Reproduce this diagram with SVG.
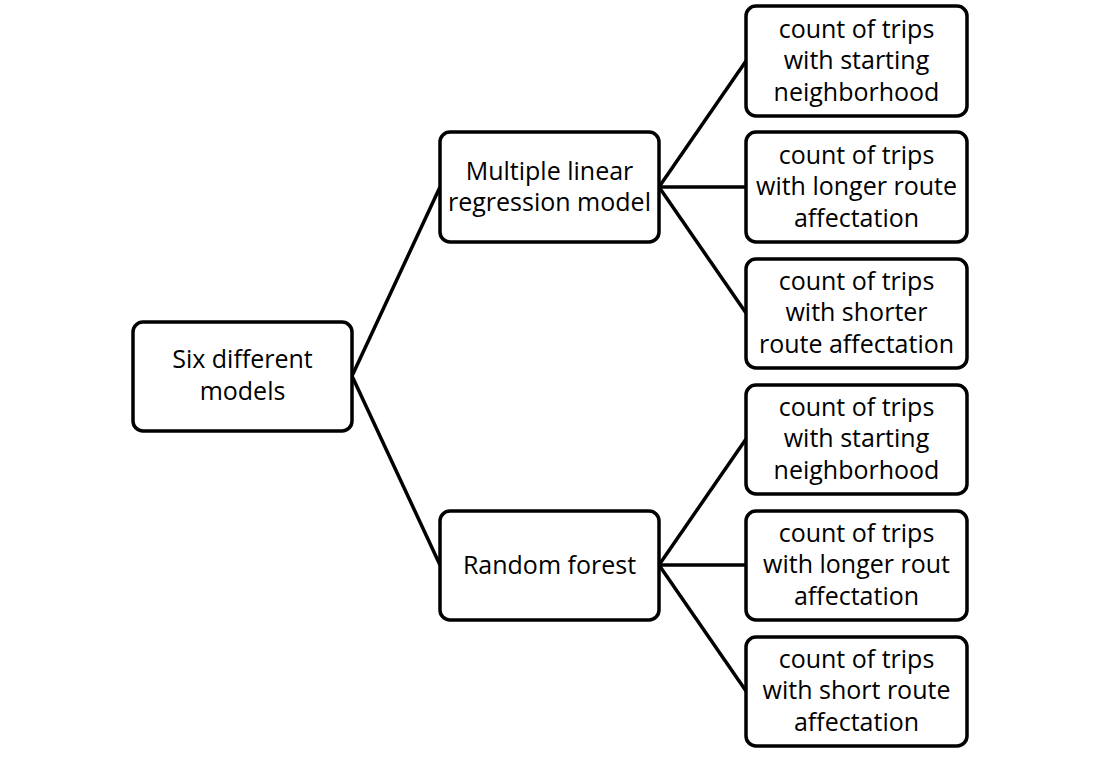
<svg xmlns="http://www.w3.org/2000/svg" width="1100" height="757" viewBox="0 0 1100 757">
<style>
.box{fill:#fff;stroke:#000;stroke-width:3.5}
.t{font-family:"Open Sans","Liberation Sans",sans-serif;font-size:25px;fill:#000;text-anchor:middle}
.c{stroke:#000;stroke-width:3.5;fill:none}
</style>
<rect width="1100" height="757" fill="#fff"/>
<g id="connectors">
<line class="c" x1="352" y1="376" x2="440" y2="187"/>
<line class="c" x1="352" y1="376" x2="440" y2="565"/>
<line class="c" x1="659" y1="187" x2="746" y2="61"/>
<line class="c" x1="659" y1="187" x2="746" y2="187"/>
<line class="c" x1="659" y1="187" x2="746" y2="313"/>
<line class="c" x1="659" y1="565" x2="746" y2="439"/>
<line class="c" x1="659" y1="565" x2="746" y2="565"/>
<line class="c" x1="659" y1="565" x2="746" y2="691"/>
</g>
<g id="root">
<rect class="box" x="133" y="322" width="219" height="109" rx="10"/>
<text class="t" x="242.5" y="368">Six different</text>
<text class="t" x="242.5" y="400">models</text>
</g>
<g id="mlr">
<rect class="box" x="440" y="132" width="219" height="110" rx="10"/>
<text class="t" x="549.5" y="180">Multiple linear</text>
<text class="t" x="549.5" y="211">regression model</text>
</g>
<g id="rf">
<rect class="box" x="440" y="511" width="219" height="109" rx="10"/>
<text class="t" x="549.5" y="574">Random forest</text>
</g>
<g id="leaf1">
<rect class="box" x="746" y="6" width="221" height="110" rx="10"/>
<text class="t" x="856.5" y="38">count of trips</text>
<text class="t" x="856.5" y="69">with starting</text>
<text class="t" x="856.5" y="101">neighborhood</text>
</g>
<g id="leaf2">
<rect class="box" x="746" y="132" width="221" height="110" rx="10"/>
<text class="t" x="856.5" y="164">count of trips</text>
<text class="t" x="856.5" y="195">with longer route</text>
<text class="t" x="856.5" y="227">affectation</text>
</g>
<g id="leaf3">
<rect class="box" x="746" y="259" width="221" height="109" rx="10"/>
<text class="t" x="856.5" y="290">count of trips</text>
<text class="t" x="856.5" y="321">with shorter</text>
<text class="t" x="856.5" y="353">route affectation</text>
</g>
<g id="leaf4">
<rect class="box" x="746" y="385" width="221" height="109" rx="10"/>
<text class="t" x="856.5" y="416">count of trips</text>
<text class="t" x="856.5" y="447">with starting</text>
<text class="t" x="856.5" y="479">neighborhood</text>
</g>
<g id="leaf5">
<rect class="box" x="746" y="511" width="221" height="109" rx="10"/>
<text class="t" x="856.5" y="542">count of trips</text>
<text class="t" x="856.5" y="573">with longer rout</text>
<text class="t" x="856.5" y="605">affectation</text>
</g>
<g id="leaf6">
<rect class="box" x="746" y="637" width="221" height="109" rx="10"/>
<text class="t" x="856.5" y="668">count of trips</text>
<text class="t" x="856.5" y="699">with short route</text>
<text class="t" x="856.5" y="731">affectation</text>
</g>
</svg>
